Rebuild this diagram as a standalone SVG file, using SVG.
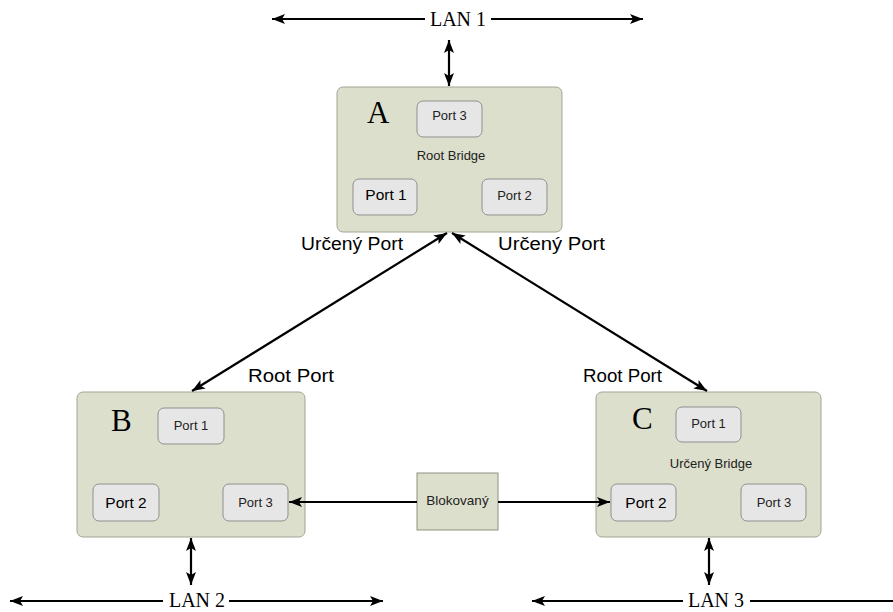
<svg xmlns="http://www.w3.org/2000/svg" width="893" height="612" viewBox="0 0 893 612">
<style>
.box{fill:#dcdfcb;stroke:#a3a595;stroke-width:1}
.port{fill:#e6e6e6;stroke:#8f8f8f;stroke-width:1}
.ps{font-family:"Liberation Sans",Arial,sans-serif;font-size:13px;fill:#222;text-anchor:middle}
.pb{font-family:"Liberation Sans",Arial,sans-serif;font-size:15.5px;fill:#000;text-anchor:middle}
.lbl{font-family:"Liberation Sans",Arial,sans-serif;font-size:18px;fill:#000}
.let{font-family:"Liberation Serif","Times New Roman",serif;font-size:31px;fill:#000}
.lan{font-family:"Liberation Serif","Times New Roman",serif;font-size:20px;fill:#000}
.c{stroke:#000;stroke-width:2.2;fill:none}
.a1{marker-end:url(#ah)}
.a2{marker-start:url(#ah);marker-end:url(#ah)}
</style>
<defs>
<marker id="ah" markerUnits="userSpaceOnUse" markerWidth="14" markerHeight="12" refX="13" refY="6" orient="auto-start-reverse">
<path d="M0,1 L13,6 L0,11 L3,6 z" fill="#000"/>
</marker>
</defs>
<rect width="893" height="612" fill="#fff"/>

<g id="lan1">
<text class="lan" x="458" y="26" text-anchor="middle">LAN 1</text>
</g>
<g id="lan2">
<text class="lan" x="197" y="607" text-anchor="middle">LAN 2</text>
</g>
<g id="lan3">
<text class="lan" x="716" y="607" text-anchor="middle">LAN 3</text>
</g>

<g id="bridgeA">
<rect class="box" x="337" y="87" width="225" height="145" rx="6"/>
<text class="let" x="367" y="123">A</text>
<rect class="port" x="417" y="101" width="65" height="36" rx="6"/>
<text class="ps" x="449.5" y="120">Port 3</text>
<text class="ps" x="451" y="160">Root Bridge</text>
<rect class="port" x="353" y="179" width="64" height="36" rx="6"/>
<text class="pb" x="386" y="200">Port 1</text>
<rect class="port" x="482" y="179" width="65" height="36" rx="6"/>
<text class="ps" x="514.5" y="200">Port 2</text>
</g>

<g id="bridgeB">
<rect class="box" x="77" y="392" width="228" height="145" rx="6"/>
<text class="let" x="111" y="431">B</text>
<rect class="port" x="158" y="408" width="66" height="36" rx="6"/>
<text class="ps" x="191" y="430">Port 1</text>
<rect class="port" x="93" y="484" width="66" height="37" rx="6"/>
<text class="pb" x="126" y="508">Port 2</text>
<rect class="port" x="223" y="484" width="65" height="37" rx="6"/>
<text class="ps" x="255.5" y="507">Port 3</text>
</g>

<g id="bridgeC">
<rect class="box" x="596" y="392" width="225" height="145" rx="6"/>
<text class="let" x="632" y="429">C</text>
<rect class="port" x="676" y="407" width="65" height="35" rx="6"/>
<text class="ps" x="708.5" y="428">Port 1</text>
<text class="ps" x="711" y="468">Určený Bridge</text>
<rect class="port" x="611" y="484" width="65" height="37" rx="6"/>
<text class="pb" x="646" y="508">Port 2</text>
<rect class="port" x="741" y="484" width="65" height="37" rx="6"/>
<text class="ps" x="774" y="507">Port 3</text>
</g>

<g id="blocked">
<rect x="417" y="473" width="81" height="57" fill="#dcdfcb" stroke="#8f9182" stroke-width="1"/>
<text class="ps" x="457.5" y="505" style="font-size:13.5px">Blokovaný</text>
</g>

<g id="labels">
<text class="lbl" x="301" y="250" textLength="102" lengthAdjust="spacingAndGlyphs">Určený Port</text>
<text class="lbl" x="498" y="250" textLength="107" lengthAdjust="spacingAndGlyphs">Určený Port</text>
<text class="lbl" x="248" y="382" textLength="86" lengthAdjust="spacingAndGlyphs">Root Port</text>
<text class="lbl" x="583" y="382" textLength="79" lengthAdjust="spacingAndGlyphs">Root Port</text>
</g>

<g id="connectors">
<line class="c a1" x1="425" y1="19" x2="272" y2="19"/>
<line class="c a1" x1="491" y1="19" x2="643" y2="19"/>
<line class="c a2" x1="449" y1="40" x2="449" y2="86"/>
<line class="c a2" x1="447" y1="233" x2="192" y2="391"/>
<line class="c a2" x1="452" y1="233" x2="707" y2="391"/>
<line class="c a1" x1="417" y1="502" x2="289" y2="502"/>
<line class="c a1" x1="498" y1="502" x2="610" y2="502"/>
<line class="c a2" x1="191" y1="538" x2="191" y2="585"/>
<line class="c a1" x1="163" y1="601" x2="10" y2="601"/>
<line class="c a1" x1="229" y1="601" x2="383" y2="601"/>
<line class="c a2" x1="709" y1="538" x2="709" y2="585"/>
<line class="c a1" x1="683" y1="601" x2="532" y2="601"/>
<line class="c" x1="750" y1="601" x2="893" y2="601"/>
</g>
</svg>
